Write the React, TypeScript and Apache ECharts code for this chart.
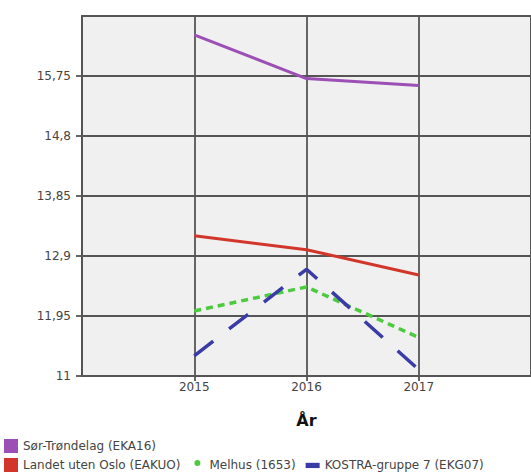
import React, { useEffect, useRef } from "react";
import * as echarts from "echarts";

const years = [2015, 2016, 2017];
const sorTrondelag = [16.4, 15.71, 15.6];
const landetUtenOslo = [13.22, 13.0, 12.6];
const melhus = [12.03, 12.41, 11.61];
const kostra7 = [11.32, 12.69, 11.1];
const yTickValues = [11, 11.95, 12.9, 13.85, 14.8, 15.75];
const seriesNames = [
  "Sør-Trøndelag (EKA16)",
  "Landet uten Oslo (EAKUO)",
  "Melhus (1653)",
  "KOSTRA-gruppe 7 (EKG07)",
];

const FONT = "DejaVu Sans";
const GRID_COLOR = "#555";

export default function App() {
  const ref = useRef<HTMLDivElement>(null);
  useEffect(() => {
    if (!ref.current) return;
    const chart = echarts.init(ref.current, undefined, { renderer: "svg" });
    const pair = (vals: number[]) => years.map((y, i) => [y, vals[i]]);
    const legendText = { fontFamily: FONT, fontSize: 12, color: "#444" };
    const gridLine = { color: GRID_COLOR, width: 1.8 };
    chart.setOption({
      animation: false,
      backgroundColor: "#ffffff",
      grid: {
        left: 82,
        right: -1,
        top: 16,
        bottom: 99,
        show: true,
        backgroundColor: "#f0f0f0",
        borderColor: GRID_COLOR,
        borderWidth: 1.8,
      },
      legend: [
        {
          data: [seriesNames[0]],
          left: 4,
          top: 439,
          orient: "horizontal",
          itemWidth: 14,
          itemHeight: 14,
          icon: "rect",
          itemStyle: { borderWidth: 0 },
          textStyle: legendText,
          padding: 0,
        },
        {
          data: [
            { name: seriesNames[1], icon: "path://M0,0H14V14H0Z" },
            {
              name: seriesNames[2],
              icon: "path://M0,0M14,14M4,5a3,3 0 1,0 6,0a3,3 0 1,0 -6,0Z",
            },
            { name: seriesNames[3], icon: "path://M0,0M14,14M-1,4.5H15V10.5H-1Z" },
          ],
          left: 4,
          top: 458,
          orient: "horizontal",
          itemGap: 10,
          itemWidth: 14,
          itemHeight: 14,
          itemStyle: { borderWidth: 0 },
          textStyle: legendText,
          padding: 0,
        },
      ],
      xAxis: {
        type: "value",
        min: 2014,
        max: 2018,
        interval: 1,
        name: "År",
        nameLocation: "middle",
        nameGap: 36,
        nameTextStyle: { fontFamily: FONT, fontSize: 16, fontWeight: "bold", color: "#111" },
        axisLine: { show: true, lineStyle: gridLine },
        axisTick: { show: true, length: 5, lineStyle: gridLine },
        axisLabel: {
          margin: 5,
          showMinLabel: false,
          showMaxLabel: false,
          fontFamily: FONT,
          fontSize: 12,
          color: "#444",
          formatter: (v: number) => String(v),
        },
        splitLine: { show: true, lineStyle: gridLine },
      },
      yAxis: {
        type: "value",
        min: 11,
        max: 16.7,
        axisLine: { show: true, lineStyle: gridLine },
        axisTick: {
          show: true,
          length: 6,
          customValues: yTickValues,
          lineStyle: gridLine,
        },
        axisLabel: {
          margin: 11,
          customValues: yTickValues,
          fontFamily: FONT,
          fontSize: 12,
          color: "#444",
          formatter: (v: number) => String(v).replace(".", ","),
        },
        splitLine: { show: true, lineStyle: gridLine },
      },
      series: [
        {
          name: seriesNames[0],
          type: "line",
          data: pair(sorTrondelag),
          showSymbol: false,
          symbol: "none",
          color: "#9c4fb5",
          lineStyle: { width: 3, color: "#9c4fb5" },
        },
        {
          name: seriesNames[1],
          type: "line",
          data: pair(landetUtenOslo),
          showSymbol: false,
          symbol: "none",
          color: "#d2362b",
          lineStyle: { width: 3, color: "#d2362b" },
        },
        {
          name: seriesNames[2],
          type: "line",
          data: pair(melhus),
          showSymbol: false,
          symbol: "none",
          color: "#4ccb3e",
          lineStyle: { width: 3.5, color: "#4ccb3e", type: [7, 5] },
        },
        {
          name: seriesNames[3],
          type: "line",
          data: pair(kostra7),
          showSymbol: false,
          symbol: "none",
          color: "#3b3ba8",
          lineStyle: { width: 3.5, color: "#3b3ba8", type: [24, 20] },
        },
      ],
    });
    return () => chart.dispose();
  }, []);
  return (
    <div
      ref={ref}
      style={{ position: "absolute", left: 0, top: 0, width: 531, height: 475 }}
    />
  );
}
